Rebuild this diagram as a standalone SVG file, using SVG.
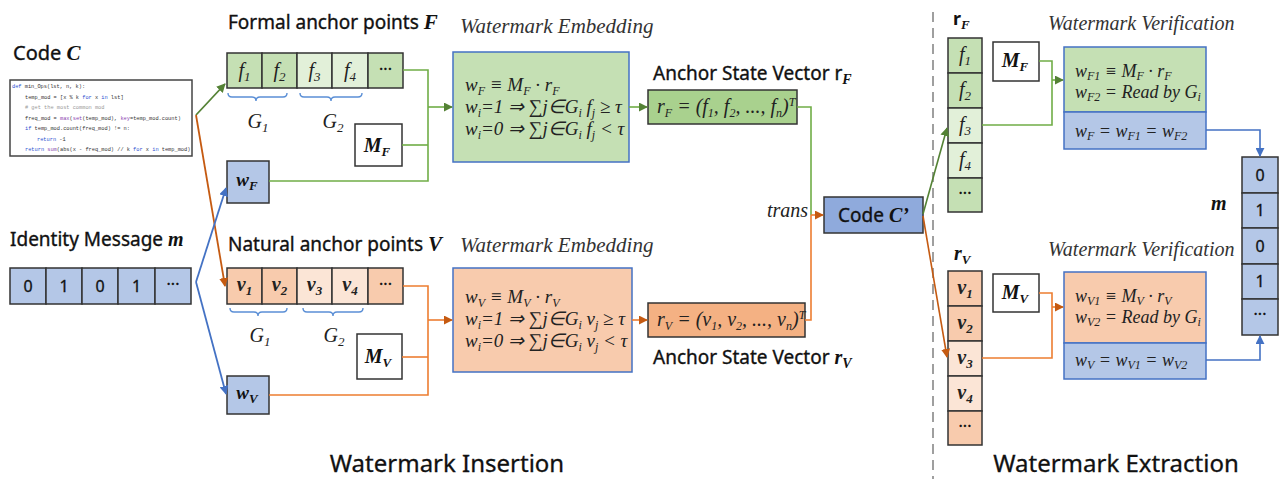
<svg xmlns="http://www.w3.org/2000/svg" width="1284" height="479" viewBox="0 0 1284 479">
<defs>
<style>
.h{font-family:"Noto Sans","Liberation Sans",sans-serif;font-size:19px;fill:#111;stroke:#111;stroke-width:0.35px}
.big{font-family:"Noto Sans","Liberation Sans",sans-serif;font-size:24px;fill:#111;stroke:#111;stroke-width:0.3px}
.mi{font-family:"Liberation Serif",serif;font-style:italic;font-size:20px;fill:#222}
.mm{font-family:"Liberation Serif",serif;font-style:italic;font-size:19px;fill:#222}
.mv{font-family:"Liberation Serif",serif;font-style:italic;font-size:18px;fill:#222}
.mb{font-family:"Liberation Serif",serif;font-style:italic;font-weight:bold;fill:#111;stroke:none}
.ti{font-family:"Liberation Serif",serif;font-style:italic;font-size:21px;fill:#333}
.tv{font-family:"Liberation Serif",serif;font-style:italic;font-size:20px;fill:#333}
.num{font-family:"Noto Sans","Liberation Sans",sans-serif;font-size:16px;fill:#111;text-anchor:middle;stroke:#111;stroke-width:0.3px}
.c{text-anchor:middle}
.cell{stroke:#333;stroke-width:1.5}
.gd{fill:#c5e0b4}.gl{fill:#e2f0d9}.od{fill:#f8cbad}.ol{fill:#fbe5d6}.bl{fill:#b4c7e7}
.wb{fill:#fff;stroke:#333;stroke-width:1.5}
.eb{stroke:#4472c4;stroke-width:1.5}
.gline{fill:none;stroke:#70ad47;stroke-width:1.6}
.oline{fill:none;stroke:#ed7d31;stroke-width:1.6}
.bline{fill:none;stroke:#4472c4;stroke-width:1.6}
.brace{fill:none;stroke:#5b8fd6;stroke-width:1.4}
.code{font-family:"Liberation Mono","DejaVu Sans Mono",monospace;font-size:5.3px;fill:#333}
.kw{fill:#2a4fd0}.fn{fill:#8a3fb0}.cm{fill:#999}
</style>
<marker id="ag" viewBox="0 0 10 10" refX="9" refY="5" markerWidth="9" markerHeight="9" markerUnits="userSpaceOnUse" orient="auto"><path d="M0,0 L10,5 L0,10 z" fill="#548235"/></marker>
<marker id="ao" viewBox="0 0 10 10" refX="9" refY="5" markerWidth="9" markerHeight="9" markerUnits="userSpaceOnUse" orient="auto"><path d="M0,0 L10,5 L0,10 z" fill="#c55a11"/></marker>
<marker id="ab" viewBox="0 0 10 10" refX="9" refY="5" markerWidth="9" markerHeight="9" markerUnits="userSpaceOnUse" orient="auto"><path d="M0,0 L10,5 L0,10 z" fill="#4472c4"/></marker>
</defs>
<rect width="1284" height="479" fill="#fff"/>

<!-- Code C -->
<g id="code-c">
<text x="13" y="60" class="h" style="font-size:20px">Code <tspan class="mb" font-size="21">C</tspan></text>
<rect x="10" y="80" width="182" height="76" fill="#fff" stroke="#444" stroke-width="1.5"/>
<text class="code" x="12" y="88"><tspan class="kw">def</tspan> min_Ops(lst, n, k):</text>
<text class="code" x="25" y="98.5">temp_mod = [x % k <tspan class="kw">for</tspan> x <tspan class="kw">in</tspan> lst]</text>
<text class="code cm" x="25" y="109"># get the most common mod</text>
<text class="code" x="25" y="119.5">freq_mod = <tspan class="fn">max</tspan>(<tspan class="fn">set</tspan>(temp_mod), <tspan class="fn">key</tspan>=temp_mod.count)</text>
<text class="code" x="25" y="130"><tspan class="kw">if</tspan> temp_mod.count(freq_mod) != n:</text>
<text class="code" x="37" y="140.5"><tspan class="kw">return</tspan> -1</text>
<text class="code" x="25" y="151"><tspan class="kw">return</tspan> <tspan class="fn">sum</tspan>(abs(x - freq_mod) // k <tspan class="kw">for</tspan> x <tspan class="kw">in</tspan> temp_mod)</text>
</g>

<!-- Identity message -->
<g id="identity-message">
<text x="10" y="246" class="h">Identity Message <tspan class="mb" font-size="20">m</tspan></text>
<rect x="10" y="268" width="36" height="36" class="cell bl"/>
<rect x="46" y="268" width="36" height="36" class="cell bl"/>
<rect x="82" y="268" width="36" height="36" class="cell bl"/>
<rect x="118" y="268" width="37" height="36" class="cell bl"/>
<rect x="155" y="268" width="36" height="36" class="cell bl"/>
<text x="28" y="292" class="num">0</text>
<text x="64" y="292" class="num">1</text>
<text x="100" y="292" class="num">0</text>
<text x="136.5" y="292" class="num">1</text>
<text x="173" y="290" class="num">···</text>
</g>

<!-- Formal anchor points F -->
<g id="formal-anchor-points">
<text x="228" y="29" class="h">Formal anchor points <tspan class="mb" font-size="21">F</tspan></text>
<rect x="227" y="53" width="35" height="35" class="cell gd"/>
<rect x="262" y="53" width="35" height="35" class="cell gd"/>
<rect x="297" y="53" width="35" height="35" class="cell gl"/>
<rect x="332" y="53" width="36" height="35" class="cell gl"/>
<rect x="368" y="53" width="35" height="35" class="cell gd"/>
<text x="244.5" y="77" class="mi c">f<tspan font-size="13" dy="4">1</tspan></text>
<text x="279.5" y="77" class="mi c">f<tspan font-size="13" dy="4">2</tspan></text>
<text x="314.5" y="77" class="mi c">f<tspan font-size="13" dy="4">3</tspan></text>
<text x="350" y="77" class="mi c">f<tspan font-size="13" dy="4">4</tspan></text>
<text x="385.5" y="75" class="num">···</text>
<path class="brace" d="M228,93 q0,4 4,4 h20 q4,0 4,4 q0,-4 4,-4 h23 q4,0 4,-4"/>
<path class="brace" d="M300,93 q0,4 4,4 h23 q4,0 4,4 q0,-4 4,-4 h23 q4,0 4,-4"/>
<text x="258" y="128" class="mi c" fill="#444">G<tspan font-size="13" dy="4">1</tspan></text>
<text x="333" y="128" class="mi c" fill="#444">G<tspan font-size="13" dy="4">2</tspan></text>
</g>
<g id="m-f"><rect x="355" y="124" width="47" height="42" class="wb"/><text x="377" y="152" class="mb c" font-size="20">M<tspan font-size="13" dy="4">F</tspan></text></g>
<g id="w-f"><rect x="227" y="161" width="42" height="42" class="cell bl"/><text x="247" y="186" class="mb c" font-size="19">w<tspan font-size="13" dy="4">F</tspan></text></g>

<!-- Natural anchor points V -->
<g id="natural-anchor-points">
<text x="228" y="251" class="h">Natural anchor points <tspan class="mb" font-size="21">V</tspan></text>
<rect x="227" y="268" width="35" height="36" class="cell od"/>
<rect x="262" y="268" width="35" height="36" class="cell od"/>
<rect x="297" y="268" width="35" height="36" class="cell ol"/>
<rect x="332" y="268" width="36" height="36" class="cell ol"/>
<rect x="368" y="268" width="35" height="36" class="cell od"/>
<text x="244.5" y="291" class="mi c" font-weight="bold">v<tspan font-size="13" dy="4">1</tspan></text>
<text x="279.5" y="291" class="mi c" font-weight="bold">v<tspan font-size="13" dy="4">2</tspan></text>
<text x="314.5" y="291" class="mi c" font-weight="bold">v<tspan font-size="13" dy="4">3</tspan></text>
<text x="350" y="291" class="mi c" font-weight="bold">v<tspan font-size="13" dy="4">4</tspan></text>
<text x="385.5" y="290" class="num">···</text>
<path class="brace" d="M230,308 q0,4 4,4 h20 q4,0 4,4 q0,-4 4,-4 h21 q4,0 4,-4"/>
<path class="brace" d="M303,308 q0,4 4,4 h22 q4,0 4,4 q0,-4 4,-4 h22 q4,0 4,-4"/>
<text x="260" y="342" class="mi c" fill="#444">G<tspan font-size="13" dy="4">1</tspan></text>
<text x="334" y="342" class="mi c" fill="#444">G<tspan font-size="13" dy="4">2</tspan></text>
</g>
<g id="m-v"><rect x="357" y="334" width="45" height="45" class="wb"/><text x="378" y="363" class="mb c" font-size="20">M<tspan font-size="13" dy="4">V</tspan></text></g>
<g id="w-v"><rect x="227" y="376" width="42" height="38" class="cell bl"/><text x="247" y="399" class="mb c" font-size="19">w<tspan font-size="13" dy="4">V</tspan></text></g>

<!-- Embedding F -->
<g id="embedding-f">
<text x="460" y="33" class="ti">Watermark Embedding</text>
<rect x="453" y="52" width="176" height="110" class="eb gd"/>
<text x="465" y="91" class="mm">w<tspan font-size="12" dy="4">F</tspan><tspan dy="-4"> ≡ M</tspan><tspan font-size="12" dy="4">F</tspan><tspan dy="-4"> · r</tspan><tspan font-size="12" dy="4">F</tspan></text>
<text x="465" y="113" class="mm">w<tspan font-size="12" dy="4">i</tspan><tspan dy="-4">=1 ⇒ ∑j∈G</tspan><tspan font-size="12" dy="4">i</tspan><tspan dy="-4"> f</tspan><tspan font-size="12" dy="4">j</tspan><tspan dy="-4"> ≥ τ</tspan></text>
<text x="465" y="135" class="mm">w<tspan font-size="12" dy="4">i</tspan><tspan dy="-4">=0 ⇒ ∑j∈G</tspan><tspan font-size="12" dy="4">i</tspan><tspan dy="-4"> f</tspan><tspan font-size="12" dy="4">j</tspan><tspan dy="-4"> &lt; τ</tspan></text>
</g>
<g id="r-f">
<text x="653" y="80" class="h">Anchor State Vector r<tspan class="mb" font-size="14" dy="4">F</tspan></text>
<rect x="648" y="90" width="149" height="34" class="cell" fill="#a9d18e"/>
<text x="657" y="113" class="mi" font-size="19">r<tspan font-size="12" dy="4">F</tspan><tspan dy="-4"> = (f</tspan><tspan font-size="12" dy="4">1</tspan><tspan dy="-4">, f</tspan><tspan font-size="12" dy="4">2</tspan><tspan dy="-4">, ..., f</tspan><tspan font-size="12" dy="4">n</tspan><tspan dy="-4">)</tspan><tspan font-size="12" dy="-7">T</tspan></text>
</g>

<!-- Embedding V -->
<g id="embedding-v">
<text x="460" y="252" class="ti">Watermark Embedding</text>
<rect x="453" y="268" width="179" height="104" class="eb od"/>
<text x="465" y="303" class="mm">w<tspan font-size="12" dy="4">V</tspan><tspan dy="-4"> ≡ M</tspan><tspan font-size="12" dy="4">V</tspan><tspan dy="-4"> · r</tspan><tspan font-size="12" dy="4">V</tspan></text>
<text x="465" y="325" class="mm">w<tspan font-size="12" dy="4">i</tspan><tspan dy="-4">=1 ⇒ ∑j∈G</tspan><tspan font-size="12" dy="4">i</tspan><tspan dy="-4"> v</tspan><tspan font-size="12" dy="4">j</tspan><tspan dy="-4"> ≥ τ</tspan></text>
<text x="465" y="347" class="mm">w<tspan font-size="12" dy="4">i</tspan><tspan dy="-4">=0 ⇒ ∑j∈G</tspan><tspan font-size="12" dy="4">i</tspan><tspan dy="-4"> v</tspan><tspan font-size="12" dy="4">j</tspan><tspan dy="-4"> &lt; τ</tspan></text>
</g>
<g id="r-v">
<rect x="648" y="303" width="157" height="34" class="cell" fill="#f4b183"/>
<text x="657" y="326" class="mi" font-size="19">r<tspan font-size="12" dy="4">V</tspan><tspan dy="-4"> = (v</tspan><tspan font-size="12" dy="4">1</tspan><tspan dy="-4">, v</tspan><tspan font-size="12" dy="4">2</tspan><tspan dy="-4">, ..., v</tspan><tspan font-size="12" dy="4">n</tspan><tspan dy="-4">)</tspan><tspan font-size="12" dy="-7">T</tspan></text>
<text x="653" y="364" class="h">Anchor State Vector <tspan class="mb" font-size="20">r</tspan><tspan class="mb" font-size="14" dy="4">V</tspan></text>
</g>

<!-- Code C' -->
<g id="code-c-prime">
<rect x="824" y="197" width="99" height="36" class="cell" fill="#8faadc"/>
<text x="873.5" y="222" class="h c">Code <tspan class="mb" font-size="20">C’</tspan></text>
<text x="767" y="217" class="mi" font-size="17" fill="#333">trans</text>
</g>

<!-- divider -->
<line x1="933" y1="12" x2="933" y2="479" stroke="#888" stroke-width="1.6" stroke-dasharray="10,6"/>

<!-- Extraction F -->
<g id="extract-f">
<text x="953" y="25" font-family="Noto Sans, Liberation Sans, sans-serif" font-weight="bold" font-size="18" fill="#111">r<tspan class="mb" font-size="13" dy="4">F</tspan></text>
<rect x="948" y="38" width="34" height="35" class="cell gd"/>
<rect x="948" y="73" width="34" height="35" class="cell gd"/>
<rect x="948" y="108" width="34" height="35" class="cell gl"/>
<rect x="948" y="143" width="34" height="35" class="cell gl"/>
<rect x="948" y="178" width="34" height="34" class="cell gd"/>
<text x="965" y="61" class="mi c">f<tspan font-size="13" dy="4">1</tspan></text>
<text x="965" y="96" class="mi c">f<tspan font-size="13" dy="4">2</tspan></text>
<text x="965" y="131" class="mi c">f<tspan font-size="13" dy="4">3</tspan></text>
<text x="965" y="166" class="mi c">f<tspan font-size="13" dy="4">4</tspan></text>
<text x="965" y="199" class="num">···</text>
</g>
<g id="m-f-2"><rect x="993" y="42" width="46" height="39" class="wb"/><text x="1015" y="67" class="mb c" font-size="20">M<tspan font-size="13" dy="4">F</tspan></text></g>
<g id="verify-f">
<text x="1048" y="30" class="tv">Watermark Verification</text>
<rect x="1064" y="47" width="142" height="65" class="eb gd"/>
<rect x="1064" y="112" width="142" height="37" class="eb bl"/>
<text x="1075" y="77" class="mv">w<tspan font-size="12" dy="3">F1</tspan><tspan dy="-3"> ≡ M</tspan><tspan font-size="12" dy="3">F</tspan><tspan dy="-3"> · r</tspan><tspan font-size="12" dy="3">F</tspan></text>
<text x="1075" y="98" class="mv">w<tspan font-size="12" dy="3">F2</tspan><tspan dy="-3"> = Read by G</tspan><tspan font-size="12" dy="3">i</tspan></text>
<text x="1075" y="137" class="mv">w<tspan font-size="12" dy="3">F</tspan><tspan dy="-3">  = w</tspan><tspan font-size="12" dy="3">F1</tspan><tspan dy="-3"> = w</tspan><tspan font-size="12" dy="3">F2</tspan></text>
</g>

<!-- Extraction V -->
<g id="extract-v">
<text x="954" y="260" class="mb" font-size="20">r<tspan font-size="13" dy="4">V</tspan></text>
<rect x="948" y="271" width="34" height="35" class="cell od"/>
<rect x="948" y="306" width="34" height="35" class="cell od"/>
<rect x="948" y="341" width="34" height="35" class="cell ol"/>
<rect x="948" y="376" width="34" height="35" class="cell ol"/>
<rect x="948" y="411" width="34" height="34" class="cell od"/>
<text x="965" y="294" class="mi c" font-weight="bold">v<tspan font-size="13" dy="4">1</tspan></text>
<text x="965" y="329" class="mi c" font-weight="bold">v<tspan font-size="13" dy="4">2</tspan></text>
<text x="965" y="364" class="mi c" font-weight="bold">v<tspan font-size="13" dy="4">3</tspan></text>
<text x="965" y="399" class="mi c" font-weight="bold">v<tspan font-size="13" dy="4">4</tspan></text>
<text x="965" y="432" class="num">···</text>
</g>
<g id="m-v-2"><rect x="993" y="274" width="46" height="38" class="wb"/><text x="1015" y="299" class="mb c" font-size="20">M<tspan font-size="13" dy="4">V</tspan></text></g>
<g id="verify-v">
<text x="1048" y="256" class="tv">Watermark Verification</text>
<rect x="1064" y="272" width="142" height="71" class="eb od"/>
<rect x="1064" y="343" width="142" height="36" class="eb bl"/>
<text x="1075" y="302" class="mv">w<tspan font-size="12" dy="3">V1</tspan><tspan dy="-3"> ≡ M</tspan><tspan font-size="12" dy="3">V</tspan><tspan dy="-3"> · r</tspan><tspan font-size="12" dy="3">V</tspan></text>
<text x="1075" y="323" class="mv">w<tspan font-size="12" dy="3">V2</tspan><tspan dy="-3"> = Read by G</tspan><tspan font-size="12" dy="3">i</tspan></text>
<text x="1075" y="366" class="mv">w<tspan font-size="12" dy="3">V</tspan><tspan dy="-3">  = w</tspan><tspan font-size="12" dy="3">V1</tspan><tspan dy="-3"> = w</tspan><tspan font-size="12" dy="3">V2</tspan></text>
</g>

<!-- m output -->
<g id="m-output">
<text x="1211" y="210" class="mb" font-size="20">m</text>
<rect x="1242" y="157" width="36" height="36" class="cell bl"/>
<rect x="1242" y="193" width="36" height="35" class="cell bl"/>
<rect x="1242" y="228" width="36" height="36" class="cell bl"/>
<rect x="1242" y="264" width="36" height="35" class="cell bl"/>
<rect x="1242" y="299" width="36" height="36" class="cell bl"/>
<text x="1260" y="181" class="num">0</text>
<text x="1260" y="216" class="num">1</text>
<text x="1260" y="252" class="num">0</text>
<text x="1260" y="287" class="num">1</text>
<text x="1260" y="320" class="num">···</text>
</g>

<!-- connectors -->
<g id="connectors">
<line x1="196" y1="115" x2="225" y2="84" stroke="#548235" stroke-width="1.8" marker-end="url(#ag)"/>
<line x1="196" y1="115" x2="225" y2="286" stroke="#c55a11" stroke-width="1.8" marker-end="url(#ao)"/>
<line x1="196" y1="282" x2="226" y2="188" stroke="#4472c4" stroke-width="1.8" marker-end="url(#ab)"/>
<line x1="196" y1="282" x2="226" y2="394" stroke="#4472c4" stroke-width="1.8" marker-end="url(#ab)"/>

<polyline class="gline" points="403,70 428,70 428,181 269,181"/>
<line class="gline" x1="402" y1="145" x2="428" y2="145"/>
<line x1="428" y1="107" x2="452" y2="107" stroke="#70ad47" stroke-width="1.6" marker-end="url(#ag)"/>
<line x1="629" y1="107" x2="647" y2="107" stroke="#70ad47" stroke-width="1.6" marker-end="url(#ag)"/>
<polyline class="gline" points="797,107 811,107 811,215"/>

<polyline class="oline" points="403,286 428,286 428,395 269,395"/>
<line class="oline" x1="402" y1="357" x2="428" y2="357"/>
<line x1="428" y1="320" x2="452" y2="320" stroke="#ed7d31" stroke-width="1.6" marker-end="url(#ao)"/>
<line x1="632" y1="320" x2="647" y2="320" stroke="#ed7d31" stroke-width="1.6" marker-end="url(#ao)"/>
<polyline class="oline" points="805,320 811,320 811,215"/>
<line x1="811" y1="215" x2="823" y2="215" stroke="#ed7d31" stroke-width="1.6" marker-end="url(#ao)"/>

<line x1="923" y1="214" x2="947" y2="128" stroke="#548235" stroke-width="1.6" marker-end="url(#ag)"/>
<line x1="923" y1="216" x2="947" y2="357" stroke="#c55a11" stroke-width="1.6" marker-end="url(#ao)"/>

<polyline class="gline" points="1039,61 1052,61 1052,125 982,125"/>
<line x1="1052" y1="80" x2="1063" y2="80" stroke="#70ad47" stroke-width="1.6" marker-end="url(#ag)"/>
<polyline class="oline" points="1039,293 1052,293 1052,358 982,358"/>
<line x1="1052" y1="307" x2="1063" y2="307" stroke="#ed7d31" stroke-width="1.6" marker-end="url(#ao)"/>

<polyline class="bline" points="1206,130 1260,130 1260,156" marker-end="url(#ab)"/>
<polyline class="bline" points="1206,360 1260,360 1260,336" marker-end="url(#ab)"/>
</g>

<!-- section titles -->
<text x="447" y="472" class="big c">Watermark Insertion</text>
<text x="1116" y="472" class="big c">Watermark Extraction</text>
</svg>
